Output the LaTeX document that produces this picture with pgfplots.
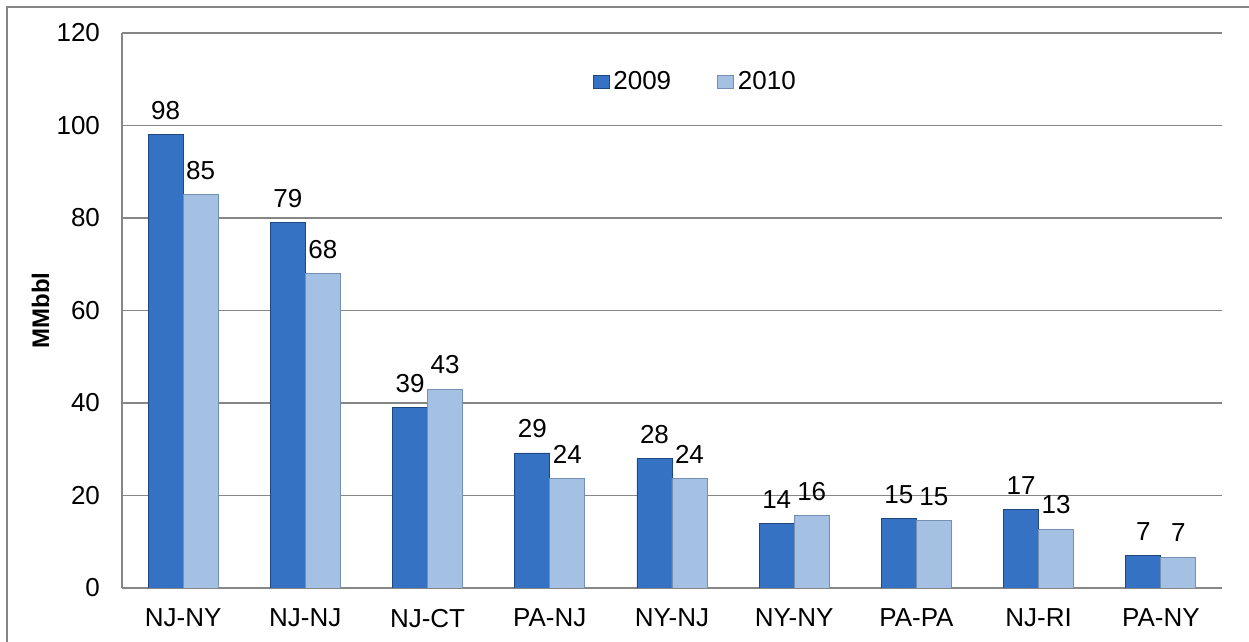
\documentclass[border=0pt]{standalone}
\usepackage{fontspec}
\setmainfont{Liberation Sans}
\usepackage{pgfplots}
\pgfplotsset{compat=1.18}
\definecolor{darkbar}{HTML}{3572C4}
\definecolor{darkedge}{HTML}{1F467F}
\definecolor{lightbar}{HTML}{A4C0E2}
\definecolor{lightedge}{HTML}{7390B3}
\definecolor{gridc}{HTML}{868686}
\begin{document}
\begin{tikzpicture}
\useasboundingbox (0,0) rectangle (624.5pt,321pt);
\draw[gridc, line width=0.6pt] (3.5pt,0) -- (3.5pt,317.5pt) -- (624.5pt,317.5pt);
\begin{axis}[
  at={(61pt,27pt)}, anchor=south west,
  scale only axis, width=550pt, height=277.5pt,
  ybar=0pt, bar width=17.5pt,
  xmin=-0.5, xmax=8.5, ymin=0, ymax=120,
  ytick={0,20,...,120},
  xtick=data,
  xticklabels={NJ-NY,NJ-NJ,NJ-CT,PA-NJ,NY-NJ,NY-NY,PA-PA,NJ-RI,PA-NY},
  ymajorgrids, grid style={gridc, line width=0.6pt},
  axis x line*=bottom, axis y line*=left,
  axis line style={gridc, line width=0.6pt},
  major tick length=0pt,
  tick label style={font=\fontsize{13}{15}\selectfont},
  /pgf/number format/assume math mode=true,
  yticklabel style={xshift=-7.5pt},
  xticklabel style={yshift=-7pt},
  ylabel={\bfseries MMbbl}, ylabel style={font=\fontsize{12}{14}\selectfont, anchor=center, at={(axis description cs:-0.074,0.5)}},
  nodes near coords,
  nodes near coords style={font=\fontsize{13}{15}\selectfont, /pgf/number format/fixed, /pgf/number format/precision=0, yshift=4pt},
  legend style={at={(0.522,0.912)}, anchor=center, draw=none, legend columns=2, font=\fontsize{13}{15}\selectfont, /tikz/every even column/.append style={column sep=21pt}},
  legend image code/.code={\draw[#1] (0pt,-3.25pt) rectangle (8pt,3.25pt);},
]
\addplot[fill=darkbar, draw=darkedge] coordinates {(0,98) (1,79) (2,39) (3,29.2) (4,28) (5,14) (6,15) (7,17) (8,7)};
\addplot[fill=lightbar, draw=lightedge] coordinates {(0,85) (1,68) (2,43) (3,23.6) (4,23.6) (5,15.7) (6,14.6) (7,12.7) (8,6.7)};
\legend{2009,2010}
\end{axis}
\end{tikzpicture}
\end{document}
